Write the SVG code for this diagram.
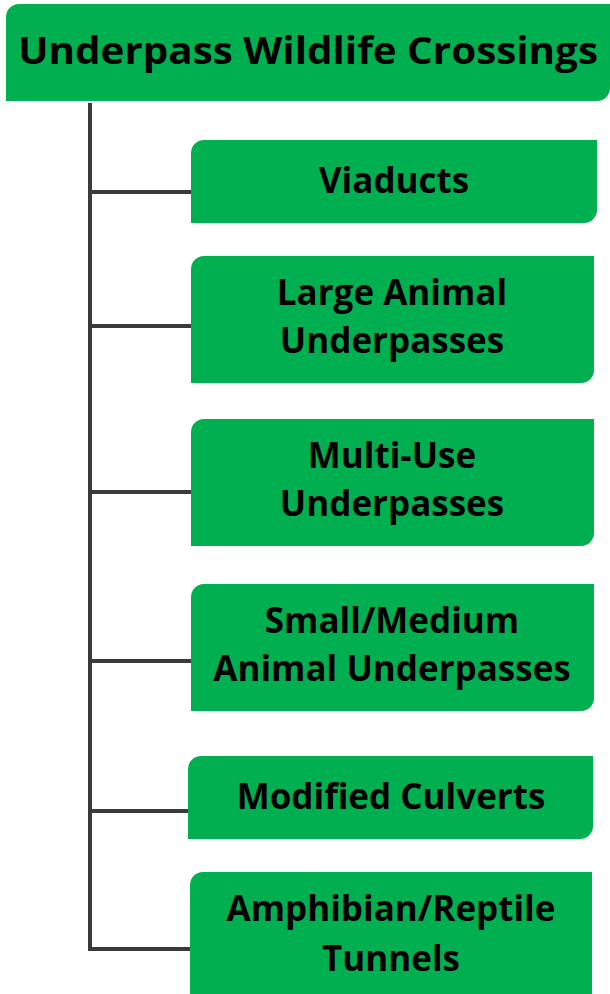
<svg xmlns="http://www.w3.org/2000/svg" width="610" height="994" viewBox="0 0 610 994">
<style>
.box{fill:#00B050;}
.t{font-family:"Open Sans","Liberation Sans",sans-serif;font-weight:bold;fill:#000;text-anchor:middle;font-size:35px;}
.c{fill:none;stroke:#3a3a3a;stroke-width:4;}
</style>
<rect width="610" height="994" fill="#fff"/>
<g id="connectors">
<path class="c" d="M90 103 V949 H191"/>
<path class="c" d="M90 192 H191 M90 326 H191 M90 492 H191 M90 661 H191 M90 811 H188"/>
</g>
<g id="root">
<path class="box" d="M19 4 H610 V88 A13 13 0 0 1 597 101 H6 V17 A13 13 0 0 1 19 4 Z"/>
<text class="t" x="308" y="64" style="font-size:38px" textLength="580" lengthAdjust="spacingAndGlyphs">Underpass Wildlife Crossings</text>
</g>
<g id="n1">
<path class="box" d="M204 140 H597 V210 A13 13 0 0 1 584 223 H191 V153 A13 13 0 0 1 204 140 Z"/>
<text class="t" x="394" y="193">Viaducts</text>
</g>
<g id="n2">
<path class="box" d="M204 256 H594 V370 A13 13 0 0 1 581 383 H191 V269 A13 13 0 0 1 204 256 Z"/>
<text class="t" x="392" y="305">Large Animal</text>
<text class="t" x="392" y="353">Underpasses</text>
</g>
<g id="n3">
<path class="box" d="M204 419 H594 V533 A13 13 0 0 1 581 546 H191 V432 A13 13 0 0 1 204 419 Z"/>
<text class="t" x="392" y="468">Multi-Use</text>
<text class="t" x="392" y="516">Underpasses</text>
</g>
<g id="n4">
<path class="box" d="M204 584 H594 V698 A13 13 0 0 1 581 711 H191 V597 A13 13 0 0 1 204 584 Z"/>
<text class="t" x="392" y="633">Small/Medium</text>
<text class="t" x="392" y="681">Animal Underpasses</text>
</g>
<g id="n5">
<path class="box" d="M201 756 H593 V826 A13 13 0 0 1 580 839 H188 V769 A13 13 0 0 1 201 756 Z"/>
<text class="t" x="391" y="809">Modified Culverts</text>
</g>
<g id="n6">
<path class="box" d="M203 872 H592 V994 H190 V885 A13 13 0 0 1 203 872 Z"/>
<text class="t" x="391" y="921">Amphibian/Reptile</text>
<text class="t" x="391" y="971">Tunnels</text>
</g>
</svg>
